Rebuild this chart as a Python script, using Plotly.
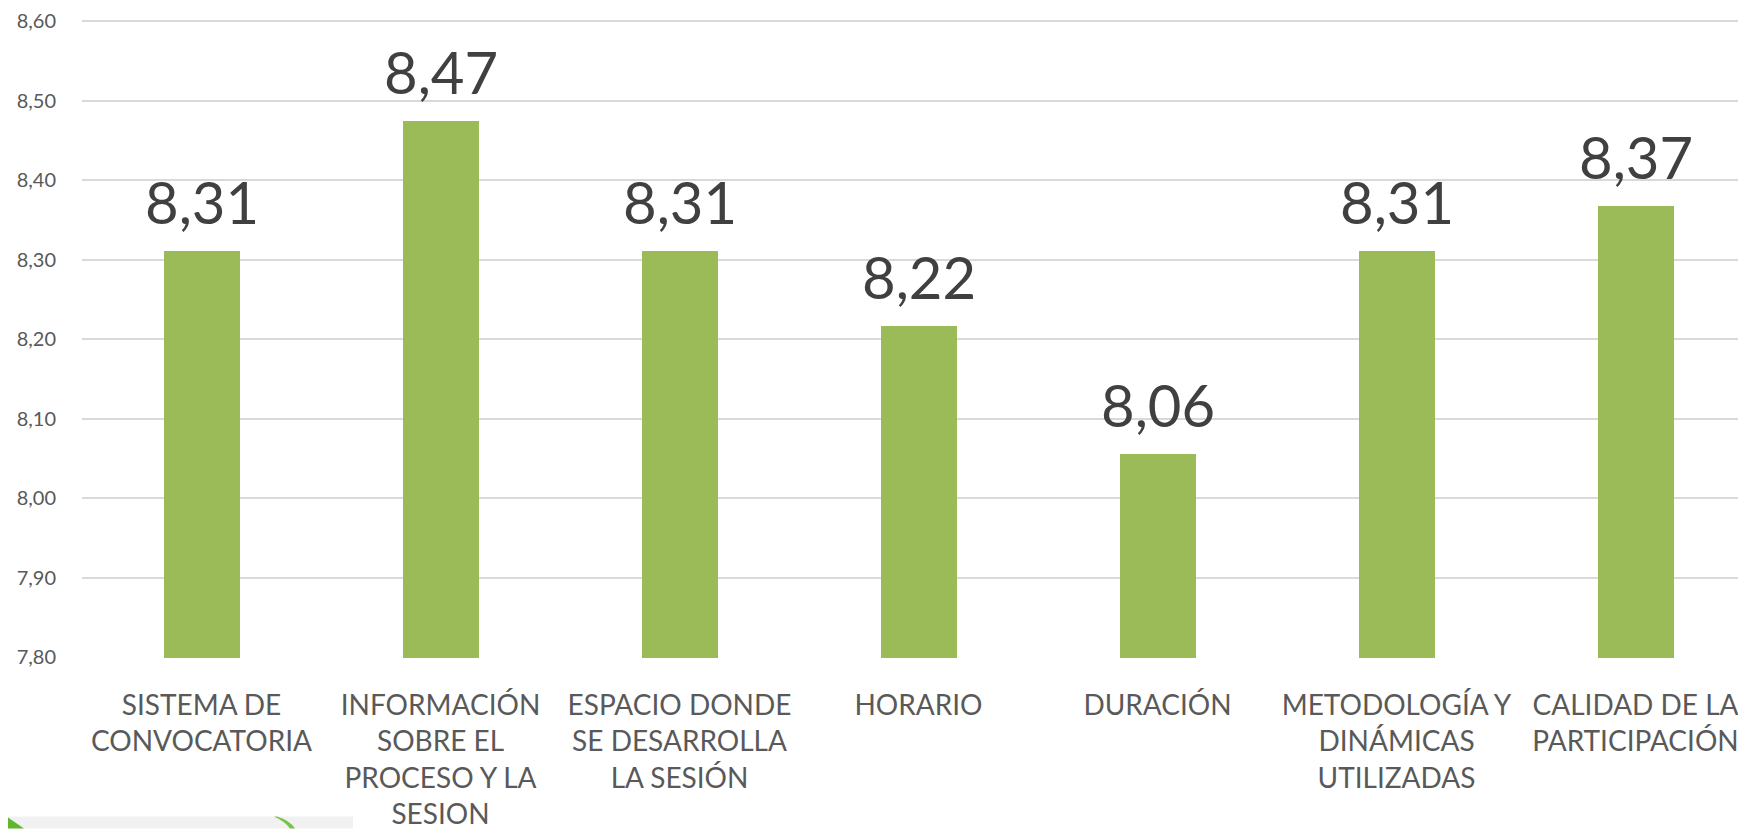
import plotly.graph_objects as go

categories = [
    "SISTEMA DE<br>CONVOCATORIA",
    "INFORMACIÓN<br>SOBRE EL<br>PROCESO Y LA<br>SESION",
    "ESPACIO DONDE<br>SE DESARROLLA<br>LA SESIÓN",
    "HORARIO",
    "DURACIÓN",
    "METODOLOGÍA Y<br>DINÁMICAS<br>UTILIZADAS",
    "CALIDAD DE LA<br>PARTICIPACIÓN",
]
values = [8.311, 8.474, 8.311, 8.217, 8.056, 8.311, 8.368]
labels = ["8,31", "8,47", "8,31", "8,22", "8,06", "8,31", "8,37"]
y_ticks = [7.8, 7.9, 8.0, 8.1, 8.2, 8.3, 8.4, 8.5, 8.6]
y_ticktext = ["7,80", "7,90", "8,00", "8,10", "8,20", "8,30", "8,40", "8,50", "8,60"]

FONT = "Lato"
# page body has an 8px margin, so the figure is sized to fill the rest
W, H = 1738, 822
ML, MR, MT, MB = 74, 0, 9, 171
plot_w = W - ML - MR
plot_h = H - MT - MB
cat_px = 239.0

fig = go.Figure()
fig.add_trace(go.Bar(
    x=list(range(len(categories))),
    y=values,
    width=0.318,
    marker=dict(color="#9BBB59", line=dict(width=0)),
    hoverinfo="skip",
))

for i, (v, t) in enumerate(zip(values, labels)):
    fig.add_annotation(
        x=i, y=v, text=t, showarrow=False,
        xanchor="center", yanchor="bottom", yshift=13,
        font=dict(family=FONT, size=58, color="#404040"),
    )

# decorative logo fragment at bottom-left
def px_to_paper_x(px):
    return (px - 8 - ML) / plot_w

def px_to_paper_y(py):
    return (H - MB - (py - 8)) / plot_h

fig.add_shape(type="rect", xref="paper", yref="paper",
              x0=px_to_paper_x(8), x1=px_to_paper_x(353),
              y0=px_to_paper_y(830), y1=px_to_paper_y(818),
              fillcolor="#f1f1f1", line=dict(width=0), layer="below")
fig.add_shape(type="path", xref="paper", yref="paper",
              path="M {} {} L {} {} L {} {} Z".format(
                  px_to_paper_x(8), px_to_paper_y(819),
                  px_to_paper_x(24), px_to_paper_y(830),
                  px_to_paper_x(8), px_to_paper_y(830)),
              fillcolor="#5cb82e", line=dict(width=0), layer="below")
fig.add_shape(type="path", xref="paper", yref="paper",
              path="M {} {} Q {} {} {} {} L {} {} Q {} {} {} {} Z".format(
                  px_to_paper_x(277), px_to_paper_y(818),
                  px_to_paper_x(290), px_to_paper_y(822),
                  px_to_paper_x(295), px_to_paper_y(830),
                  px_to_paper_x(290), px_to_paper_y(830),
                  px_to_paper_x(285), px_to_paper_y(823),
                  px_to_paper_x(274), px_to_paper_y(818)),
              fillcolor="#7cc14a", line=dict(width=0), layer="below")

fig.update_layout(
    width=W, height=H,
    margin=dict(l=ML, r=MR, t=MT, b=MB, pad=0),
    paper_bgcolor="white", plot_bgcolor="white",
    showlegend=False,
    bargap=0,
    xaxis=dict(
        tickmode="array",
        tickvals=list(range(len(categories))),
        ticktext=categories,
        range=[-0.5, -0.5 + plot_w / cat_px],
        showgrid=False, zeroline=False,
        showline=False, ticks="",
        tickfont=dict(family=FONT, size=28, color="#595959"),
        ticklabelstandoff=28,
        ticklabeloverflow="allow",
        tickangle=0,
    ),
    yaxis=dict(
        range=[7.7988, 8.604],
        tickmode="array",
        tickvals=y_ticks,
        ticktext=y_ticktext,
        showgrid=True, gridcolor="#d9d9d9", gridwidth=1.6,
        zeroline=False, showline=False, ticks="",
        tickfont=dict(family=FONT, size=20, color="#595959"),
        ticklabelstandoff=25,
        ticklabeloverflow="allow",
    ),
)

fig.write_html("out.html")
